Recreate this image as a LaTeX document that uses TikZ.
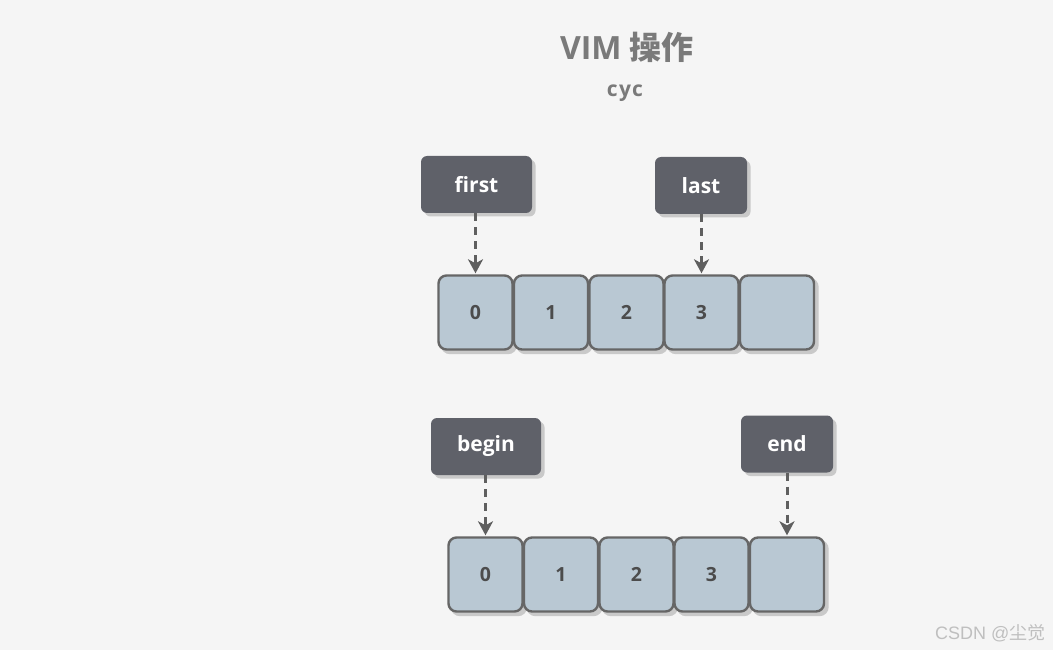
\documentclass[tikz,border=0pt]{standalone}
\usepackage{fontspec}
\setmainfont{Open Sans}
\newfontfamily\cjk{Noto Sans CJK SC}
\newfontfamily\wmfont{Liberation Sans}
\usetikzlibrary{arrows.meta}
\definecolor{bg}{HTML}{F5F5F5}
\definecolor{lblfill}{HTML}{5F6169}
\definecolor{cellfill}{HTML}{B9C8D3}
\definecolor{cellline}{HTML}{666666}
\definecolor{shadowc}{HTML}{C9C9C9}
\definecolor{titlec}{HTML}{7A7A7A}
\definecolor{arrowc}{HTML}{5F5F5F}
\tikzset{
  lbl/.style={draw=none, fill=lblfill, rounded corners=6pt, text=white,
    font=\fontsize{21}{25}\selectfont\bfseries, inner sep=0pt,
    minimum height=57pt,
    preaction={fill=shadowc, transform canvas={xshift=3.5pt,yshift=-3.5pt}}},
  cell/.style={draw=cellline, line width=2.4pt, fill=cellfill, rounded corners=8pt,
    minimum width=74pt, minimum height=74pt, inner sep=0pt,
    text=black!70, font=\fontsize{19.5}{22}\selectfont\bfseries,
    preaction={draw=shadowc, fill=shadowc, transform canvas={xshift=3.5pt,yshift=-3.5pt}}},
  ptr/.style={draw=arrowc, line width=3pt, dash pattern=on 8pt off 6pt,
    -{Stealth[width=15pt,length=14pt,inset=4pt]}, shorten >=1pt},
}
\begin{document}
\begin{tikzpicture}[x=1pt,y=-1pt]
\fill[bg] (0,0) rectangle (1053,650);
\useasboundingbox (0,0) rectangle (1053,650);
% title
\node[text=titlec, font=\fontsize{32}{38}\selectfont\bfseries] (title) at (627,47) {VIM {\cjk\bfseries 操作}};
\node[text=titlec, font=\fontsize{21}{25}\selectfont\bfseries\addfontfeature{LetterSpace=6}] (sub) at (625,93) {cyc};
% top row
\node[cell] (a0) at (475.5,312.5) {0};
\node[cell] (a1) at (551,312.5) {1};
\node[cell] (a2) at (626.5,312.5) {2};
\node[cell] (a3) at (701.5,312.5) {3};
\node[cell] (a4) at (777,312.5) {};
\node[lbl, minimum width=111pt] (first) at (476.5,184.5) {first};
\node[lbl, minimum width=92pt] (last) at (701,185.5) {last};
\draw[ptr] (first.south -| a0.north) -- (a0.north);
\draw[ptr] (last.south -| a3.north) -- (a3.north);
% bottom row
\node[cell] (b0) at (485.5,574.5) {0};
\node[cell] (b1) at (561,574.5) {1};
\node[cell] (b2) at (636.5,574.5) {2};
\node[cell] (b3) at (711.5,574.5) {3};
\node[cell] (b4) at (787,574.5) {};
\node[lbl, minimum width=110pt] (begin) at (486,446.5) {begin};
\node[lbl, minimum width=92pt] (end) at (787,444) {end};
\draw[ptr] (begin.south -| b0.north) -- (b0.north);
\draw[ptr] (end.south -| b4.north) -- (b4.north);
% watermark
\node[text=black!25, font=\fontsize{18}{21}\selectfont\wmfont, anchor=east] (wm) at (1049,633) {CSDN @{\cjk 尘觉}};
\end{tikzpicture}
\end{document}
